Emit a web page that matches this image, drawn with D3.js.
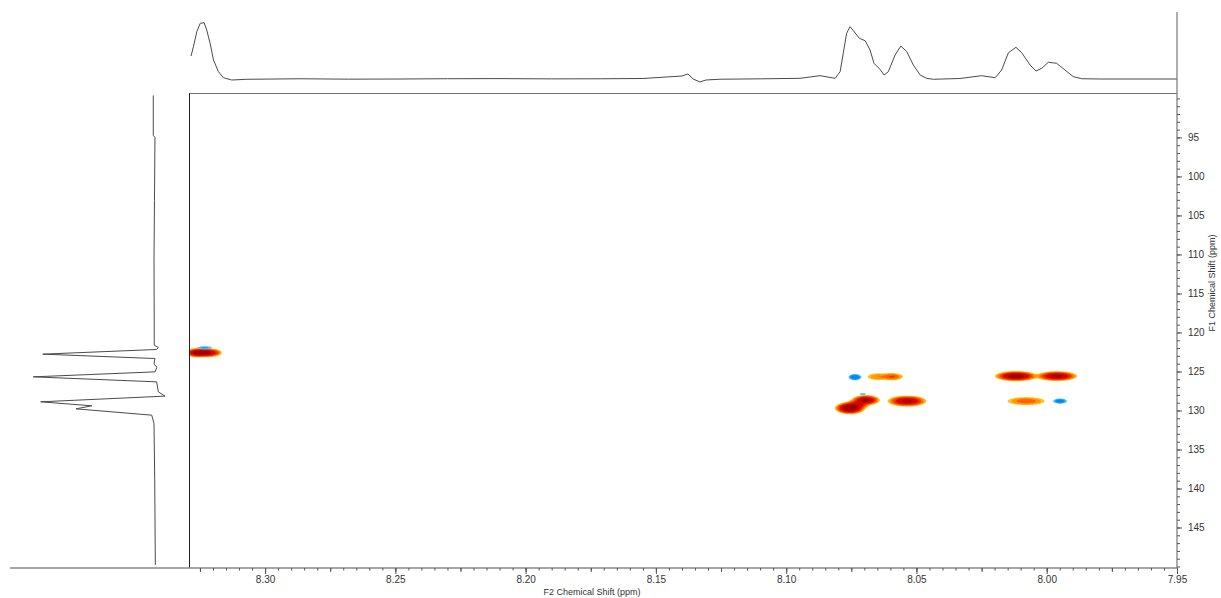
<!DOCTYPE html>
<html>
<head>
<meta charset="utf-8">
<script src="https://cdn.jsdelivr.net/npm/d3@7"></script>
<style>
    body { margin: 0; background: #fff; }
    svg { display: block; font-family: "Liberation Sans", Arial, sans-serif; }
</style>
</head>
<body>
<script>
// F2 projection (top trace): chemical shift (ppm) and relative intensity
var topShift = [8.3284, 8.3275, 8.3262, 8.3249, 8.3234, 8.3224, 8.3211, 8.3198, 8.3179, 8.3160, 8.3128, 8.3070,
    8.2866, 8.2680, 8.2482, 8.2300, 8.2098, 8.1900, 8.1714, 8.1550, 8.1400, 8.1377, 8.1357, 8.1331, 8.1308, 8.1254,
    8.1100, 8.0947, 8.0870, 8.0812, 8.0793, 8.0781, 8.0768, 8.0755, 8.0742, 8.0719, 8.0697, 8.0678, 8.0663, 8.0640,
    8.0624, 8.0608, 8.0582, 8.0560, 8.0537, 8.0512, 8.0486, 8.0461, 8.0435, 8.0333, 8.0250, 8.0198, 8.0173, 8.0147,
    8.0118, 8.0096, 8.0064, 8.0041, 8.0019, 7.9994, 7.9962, 7.9930, 7.9898, 7.9866, 7.9796, 7.9680, 7.9501];
var topIntensity = [40.9, 57.4, 84, 98.9, 100, 87, 63.4, 33.7, 13, 2.3, -1.8, -0.5,
    0.4, -0.3, 0, 0.5, 0.7, 0.2, 0.4, 0.9, 5.3, 8.9, 0, -5.3, -1.8, -0.4,
    0.3, 1.2, 5.9, 1.2, 13, 45.6, 81.2, 92.9, 85.8, 72.3, 68, 51.5, 27.9, 17.2,
    7.1, 13, 42.6, 58.6, 48.5, 24.9, 7.1, 1.2, -0.5, 0.9, 5.9, 2.3, 16, 46.7,
    56.3, 46.7, 24.9, 14.2, 19, 29.7, 27.9, 16, 4.1, 0.5, 0, 0, 0];

// F1 projection (left trace)
var leftShift = [89.62, 94.74, 95.0, 103.07, 110.75, 119.71, 121.0, 121.63, 121.93, 122.18, 122.78, 123.34,
    124.07, 124.45, 125.05, 125.69, 126.33, 127.61, 128.16, 128.89, 129.40, 129.79, 130.6, 131.66, 138.92, 149.8];
var leftIntensity = [0.6, 0.6, -0.8, -0.4, 0, -0.2, -0.2, -0.2, -3.6, -2.2, 92.2, -0.8,
    0, -2.5, -0.8, 100, -2.2, -3.6, -9.1, 93.9, 51.6, 64.6, 1.9, 0, -0.6, -1.1];

// cross peaks: F2 / F1 position, height (negative = blue), widths
var peakF2 = [8.3260, 8.3225, 8.3195, 8.3232, 8.0736, 8.0651, 8.0592, 8.0118, 7.9961, 8.0755, 8.0694, 8.0725, 8.0706, 8.0536, 8.0079, 7.9949];
var peakF1 = [122.6, 122.6, 122.6, 121.95, 125.73, 125.67, 125.67, 125.6, 125.6, 129.7, 128.67, 129.2, 127.9, 128.8, 128.8, 128.8];
var peakHeight = [30, 25, 6, -3, -8, 2.6, 4.8, 30, 24, 45, 25, 12, -2, 22, 4.2, -6];
var peakWidthF2 = [0.0017, 0.0017, 0.0015, 0.002, 0.00123, 0.0026, 0.00226, 0.0031, 0.0031, 0.0021, 0.0021, 0.0019, 0.0012, 0.0030, 0.0042, 0.00142];
var peakWidthF1 = [0.22, 0.22, 0.22, 0.12, 0.19, 0.3, 0.254, 0.246, 0.246, 0.28, 0.25, 0.26, 0.1, 0.28, 0.30, 0.17];

var posLevels = [1, 1.7, 2.8, 4.5, 8, 18];
var posColors = ["#ffc020", "#ff9800", "#ff6000", "#f03000", "#d50800", "#a00000"];
var negLevels = [1, 2, 3.2];
var negColors = ["#55c4ff", "#1aa3ff", "#0a86e8"];

var xMajor = [8.30, 8.25, 8.20, 8.15, 8.10, 8.05, 8.00, 7.95];
var xLabels = ["8.30", "8.25", "8.20", "8.15", "8.10", "8.05", "8.00", "7.95"];
var yMajor = [95, 100, 105, 110, 115, 120, 125, 130, 135, 140, 145];
var yLabels = ["95", "100", "105", "110", "115", "120", "125", "130", "135", "140", "145"];

var svg = d3.select("body").append("svg").attr("width", 1221).attr("height", 598);

var x = d3.scaleLinear().domain([8.3292, 7.95]).range([189, 1177]);
var y = d3.scaleLinear().domain([89.37, 150.19]).range([93.5, 568]);
var topY = d3.scaleLinear().domain([0, 100]).range([79, 22.7]);
var leftX = d3.scaleLinear().domain([0, 100]).range([154, 33.3]);

svg.append("clipPath").attr("id", "plot")
    .append("rect").attr("x", 189).attr("y", 93.5).attr("width", 988).attr("height", 474.5);

// 2D contour surface
var gx0 = 189, gy0 = 94, nx = 988, ny = 474;
var posGrid = new Float64Array(nx * ny), negGrid = new Float64Array(nx * ny);
for (var j = 0; j < ny; j++) {
    var f1 = y.invert(gy0 + j + 0.5);
    for (var i = 0; i < nx; i++) {
        var f2 = x.invert(gx0 + i + 0.5);
        var p = 0, n = 0;
        for (var k = 0; k < peakF2.length; k++) {
            var dx = (f2 - peakF2[k]) / peakWidthF2[k], dy = (f1 - peakF1[k]) / peakWidthF1[k];
            var d = dx * dx + dy * dy;
            if (d > 40) continue;
            var v = peakHeight[k] * Math.exp(-0.5 * d);
            if (v > 0) p += v; else n -= v;
        }
        posGrid[j * nx + i] = p;
        negGrid[j * nx + i] = n;
    }
}

var gridPath = d3.geoPath(d3.geoTransform({
    point: function(px, py) { this.stream.point(gx0 + px, gy0 + py); }
}));

var plot = svg.append("g").attr("clip-path", "url(#plot)");
plot.selectAll("path.pos")
    .data(d3.contours().size([nx, ny]).thresholds(posLevels)(posGrid))
    .join("path").attr("class", "pos")
    .attr("d", gridPath)
    .attr("fill", function(d, i) { return posColors[i]; });
plot.selectAll("path.neg")
    .data(d3.contours().size([nx, ny]).thresholds(negLevels)(negGrid))
    .join("path").attr("class", "neg")
    .attr("d", gridPath)
    .attr("fill", function(d, i) { return negColors[i]; });

// frame lines
svg.append("line").attr("x1", 189).attr("x2", 1177).attr("y1", 93.5).attr("y2", 93.5)
    .attr("stroke", "#707070").attr("stroke-width", 1.2);
svg.append("line").attr("x1", 189.5).attr("x2", 189.5).attr("y1", 93.5).attr("y2", 568)
    .attr("stroke", "#202020").attr("stroke-width", 1);
svg.append("line").attr("x1", 10).attr("x2", 1177).attr("y1", 568).attr("y2", 568)
    .attr("stroke", "#888").attr("stroke-width", 1.4);
svg.append("line").attr("x1", 1177).attr("x2", 1177).attr("y1", 12).attr("y2", 568)
    .attr("stroke", "#777").attr("stroke-width", 1.2);

// projections
svg.append("path")
    .datum(d3.zip(topShift, topIntensity))
    .attr("fill", "none").attr("stroke", "#4a4a4a").attr("stroke-width", 1)
    .attr("d", d3.line().x(function(d) { return x(d[0]); }).y(function(d) { return topY(d[1]); }));
svg.append("path")
    .datum(d3.zip(leftShift, leftIntensity))
    .attr("fill", "none").attr("stroke", "#4a4a4a").attr("stroke-width", 1)
    .attr("d", d3.line().x(function(d) { return leftX(d[1]); }).y(function(d) { return y(d[0]); }));

// bottom axis
var xMinor = d3.range(0, 76).map(function(i) { return +(7.95 + i * 0.005).toFixed(3); });
var xMid = xMinor.filter(function(v) { return Math.round(v * 1000) % 25 === 0; });

function styleAxis(g) {
    g.select(".domain").remove();
    g.selectAll(".tick line").attr("stroke", "#555");
    g.selectAll(".tick text").attr("fill", "#333").attr("font-size", 10)
        .attr("font-family", "'Liberation Sans', Arial, sans-serif");
}

svg.append("g").attr("transform", "translate(0,568)")
    .call(d3.axisBottom(x).tickValues(xMinor).tickSize(2.5).tickFormat(""))
    .call(styleAxis);
svg.append("g").attr("transform", "translate(0,568)")
    .call(d3.axisBottom(x).tickValues(xMid).tickSize(4).tickFormat(""))
    .call(styleAxis);
svg.append("g").attr("transform", "translate(0,568)")
    .call(d3.axisBottom(x).tickValues(xMajor).tickSize(6).tickPadding(2)
        .tickFormat(function(d, i) { return xLabels[i]; }))
    .call(styleAxis);

// right axis
var yMinor = d3.range(90, 151);
svg.append("g").attr("transform", "translate(1177,0)")
    .call(d3.axisRight(y).tickValues(yMinor).tickSize(3).tickFormat(""))
    .call(styleAxis);
svg.append("g").attr("transform", "translate(1177,0)")
    .call(d3.axisRight(y).tickValues(yMajor).tickSize(5).tickPadding(6)
        .tickFormat(function(d, i) { return yLabels[i]; }))
    .call(styleAxis);

svg.append("text").attr("x", 592).attr("y", 595)
    .attr("text-anchor", "middle").attr("font-size", 9).attr("fill", "#333")
    .text("F2 Chemical Shift (ppm)");
svg.append("text").attr("transform", "translate(1215,283) rotate(-90)")
    .attr("text-anchor", "middle").attr("font-size", 9).attr("fill", "#333")
    .text("F1 Chemical Shift (ppm)");
</script>
</body>
</html>
